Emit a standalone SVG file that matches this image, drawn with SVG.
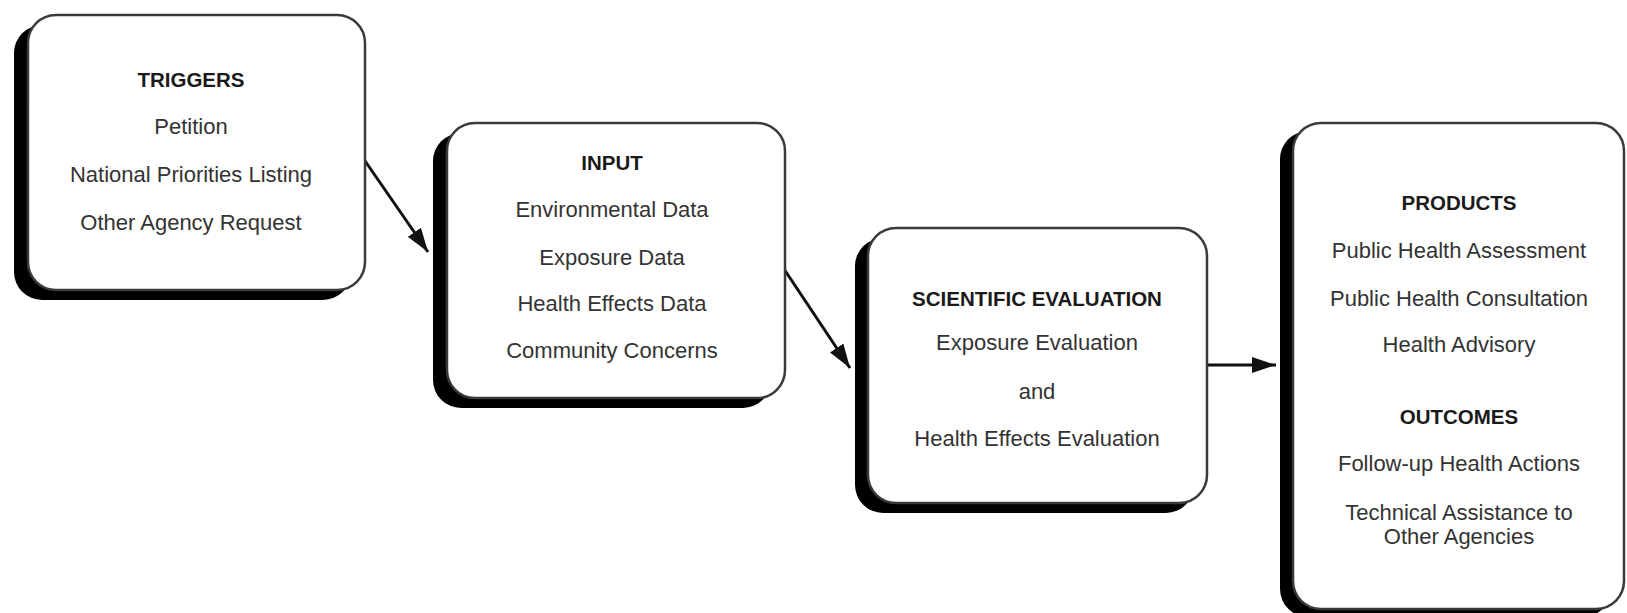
<svg xmlns="http://www.w3.org/2000/svg" width="1627" height="613" viewBox="0 0 1627 613">
<style>
.shadow{fill:#000}
.box{fill:#fff;stroke:#3a3a3a;stroke-width:2.5}
.t{font-family:"Liberation Sans",Arial,sans-serif;font-size:22px;fill:#333;text-anchor:middle}
.h{font-family:"Liberation Sans",Arial,sans-serif;font-size:20.5px;font-weight:bold;fill:#1a1a1a;text-anchor:middle}
.conn{stroke:#111;stroke-width:3;fill:none}
</style>
<defs>
<marker id="ah" markerUnits="userSpaceOnUse" markerWidth="26" markerHeight="18" refX="24" refY="8" orient="auto">
<path d="M0,0 L24,8 L0,16 z" fill="#111"/>
</marker>
</defs>
<rect width="1627" height="613" fill="#fff"/>
<g id="connectors">
<line class="conn" x1="363" y1="158" x2="428" y2="252" marker-end="url(#ah)"/>
<line class="conn" x1="784" y1="269" x2="850" y2="368" marker-end="url(#ah)"/>
<line class="conn" x1="1207" y1="365" x2="1276" y2="365" marker-end="url(#ah)"/>
</g>
<g id="triggers">
<rect class="shadow" x="14" y="25" width="337" height="275" rx="28"/>
<rect class="box" x="28" y="15" width="337" height="275" rx="28"/>
<text class="h" x="191" y="87">TRIGGERS</text>
<text class="t" x="191" y="134">Petition</text>
<text class="t" x="191" y="182">National Priorities Listing</text>
<text class="t" x="191" y="230">Other Agency Request</text>
</g>
<g id="input">
<rect class="shadow" x="433" y="133" width="338" height="275" rx="28"/>
<rect class="box" x="447" y="123" width="338" height="275" rx="28"/>
<text class="h" x="612" y="170">INPUT</text>
<text class="t" x="612" y="217">Environmental Data</text>
<text class="t" x="612" y="265">Exposure Data</text>
<text class="t" x="612" y="311">Health Effects Data</text>
<text class="t" x="612" y="358">Community Concerns</text>
</g>
<g id="scientific-evaluation">
<rect class="shadow" x="855" y="238" width="339" height="275" rx="28"/>
<rect class="box" x="868" y="228" width="339" height="275" rx="28"/>
<text class="h" x="1037" y="306">SCIENTIFIC EVALUATION</text>
<text class="t" x="1037" y="350">Exposure Evaluation</text>
<text class="t" x="1037" y="399">and</text>
<text class="t" x="1037" y="446">Health Effects Evaluation</text>
</g>
<g id="products-outcomes">
<rect class="shadow" x="1280" y="131" width="331" height="486" rx="28"/>
<rect class="box" x="1293" y="123" width="331" height="486" rx="28"/>
<text class="h" x="1459" y="210">PRODUCTS</text>
<text class="t" x="1459" y="258">Public Health Assessment</text>
<text class="t" x="1459" y="306">Public Health Consultation</text>
<text class="t" x="1459" y="352">Health Advisory</text>
<text class="h" x="1459" y="424">OUTCOMES</text>
<text class="t" x="1459" y="471">Follow-up Health Actions</text>
<text class="t" x="1459" y="520">Technical Assistance to</text>
<text class="t" x="1459" y="544">Other Agencies</text>
</g>
</svg>
